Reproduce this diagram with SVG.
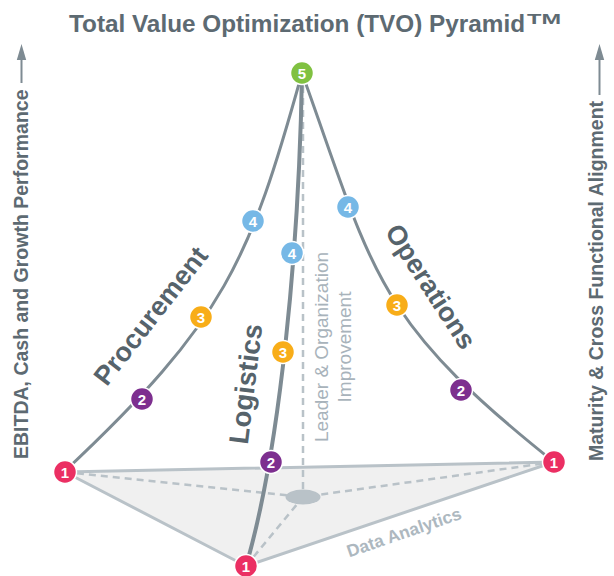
<svg xmlns="http://www.w3.org/2000/svg" width="614" height="576" viewBox="0 0 614 576">
<defs>
<style>
.title{font-family:"Liberation Sans",Arial,sans-serif;font-weight:bold;fill:#5d6a72}
.side{font-family:"Liberation Sans",Arial,sans-serif;font-weight:bold;font-size:19.5px;fill:#5d6a72}
.big{font-family:"Liberation Sans",Arial,sans-serif;font-weight:bold;font-size:27px;fill:#56636b;text-anchor:middle}
.soft{font-family:"Liberation Sans",Arial,sans-serif;font-size:19px;fill:#a8b3bb;text-anchor:middle}
.da{font-family:"Liberation Sans",Arial,sans-serif;font-weight:bold;font-size:17.5px;fill:#adb8bf;text-anchor:middle}
.edge{fill:none;stroke:#7e8b93;stroke-width:3;stroke-linecap:round}
.base{fill:none;stroke:#b9c2c8;stroke-width:3;stroke-linejoin:round}
.dash{fill:none;stroke:#b9c2c8;stroke-width:2.5;stroke-dasharray:7 5}
.arrow{stroke:#7e8b93;stroke-width:2}
.n circle{stroke:#fff;stroke-width:1.5}
.n text{font-family:"Liberation Sans",Arial,sans-serif;font-weight:bold;font-size:15px;fill:#fff;text-anchor:middle}
.c1{fill:#eb2f63}.c2{fill:#7d2f8f}.c3{fill:#f8ad18}.c4{fill:#76b8e6}.c5{fill:#80c141}
</style>
</defs>

<text class="title" x="69" y="32" font-size="24.5" textLength="456" lengthAdjust="spacingAndGlyphs">Total Value Optimization (TVO) Pyramid</text>
<text class="title" x="527" y="24" font-size="14" textLength="34" lengthAdjust="spacingAndGlyphs">TM</text>

<g id="axis-left">
<line class="arrow" x1="21.5" y1="83" x2="21.5" y2="58"/>
<path d="M16.8,60 L21.5,44 L26.2,60 Z" fill="#7e8b93"/>
<text class="side" transform="translate(28,459) rotate(-90)">EBITDA, Cash and Growth Performance</text>
</g>
<g id="axis-right">
<line class="arrow" x1="599.5" y1="95" x2="599.5" y2="58"/>
<path d="M594.8,60 L599.5,44 L604.2,60 Z" fill="#7e8b93"/>
<text class="side" transform="translate(602.5,461) rotate(-90)">Maturity &amp; Cross Functional Alignment</text>
</g>

<g id="base">
<polygon points="65,472 554,462 246,566" fill="#f0f0f0" stroke="none"/>
</g>

<g id="connectors">
<line class="dash" x1="303" y1="86" x2="303" y2="489"/>
<line class="dash" x1="65" y1="472" x2="303" y2="497"/>
<line class="dash" x1="554" y1="462" x2="303" y2="497"/>
<line class="dash" x1="246" y1="566" x2="303" y2="497"/>
<polygon class="base" points="65,472 554,462 246,566"/>
<path class="edge" d="M65,471 C225,321 250,260 302,73"/>
<path class="edge" style="stroke-width:4" d="M302,73 C299,250 280,450 246,566"/>
<path class="edge" d="M302,73 C374,273 373,318 554,462"/>
</g>

<g id="center"><ellipse cx="303" cy="497" rx="17.5" ry="7.5" fill="#b9c2c8"/></g>

<g id="leader-label">
<text class="soft" transform="translate(328,347) rotate(-90)">Leader &amp; Organization</text>
<text class="soft" transform="translate(351,347) rotate(-90)">Improvement</text>
</g>
<g id="data-analytics"><text class="da" transform="translate(406,538) rotate(-19)">Data Analytics</text></g>

<g id="label-procurement"><text class="big" transform="translate(158,321.5) rotate(-52)">Procurement</text></g>
<g id="label-logistics"><text class="big" style="font-size:27.5px" transform="translate(255,385) rotate(-83)">Logistics</text></g>
<g id="label-operations"><text class="big" transform="translate(423,291.5) rotate(57)">Operations</text></g>

<g id="node-apex" class="n"><circle class="c5" cx="302" cy="73" r="11.5"/><text x="302" y="78.5">5</text></g>
<g id="node-left-1" class="n"><circle class="c1" cx="65" cy="472" r="11.5"/><text x="65" y="477.5">1</text></g>
<g id="node-right-1" class="n"><circle class="c1" cx="554" cy="462" r="11.5"/><text x="554" y="467.5">1</text></g>
<g id="node-front-1" class="n"><circle class="c1" cx="246" cy="566" r="11.5"/><text x="246" y="571.5">1</text></g>
<g id="node-proc-2" class="n"><circle class="c2" cx="142" cy="399" r="11.5"/><text x="142" y="404.5">2</text></g>
<g id="node-proc-3" class="n"><circle class="c3" cx="201" cy="317" r="11.5"/><text x="201" y="322.5">3</text></g>
<g id="node-proc-4" class="n"><circle class="c4" cx="253" cy="221" r="11.5"/><text x="253" y="226.5">4</text></g>
<g id="node-log-2" class="n"><circle class="c2" cx="271" cy="462" r="11.5"/><text x="271" y="467.5">2</text></g>
<g id="node-log-3" class="n"><circle class="c3" cx="283" cy="352" r="11.5"/><text x="283" y="357.5">3</text></g>
<g id="node-log-4" class="n"><circle class="c4" cx="292" cy="253" r="11.5"/><text x="292" y="258.5">4</text></g>
<g id="node-ops-2" class="n"><circle class="c2" cx="461" cy="390" r="11.5"/><text x="461" y="395.5">2</text></g>
<g id="node-ops-3" class="n"><circle class="c3" cx="397" cy="305" r="11.5"/><text x="397" y="310.5">3</text></g>
<g id="node-ops-4" class="n"><circle class="c4" cx="348" cy="207" r="11.5"/><text x="348" y="212.5">4</text></g>
</svg>
